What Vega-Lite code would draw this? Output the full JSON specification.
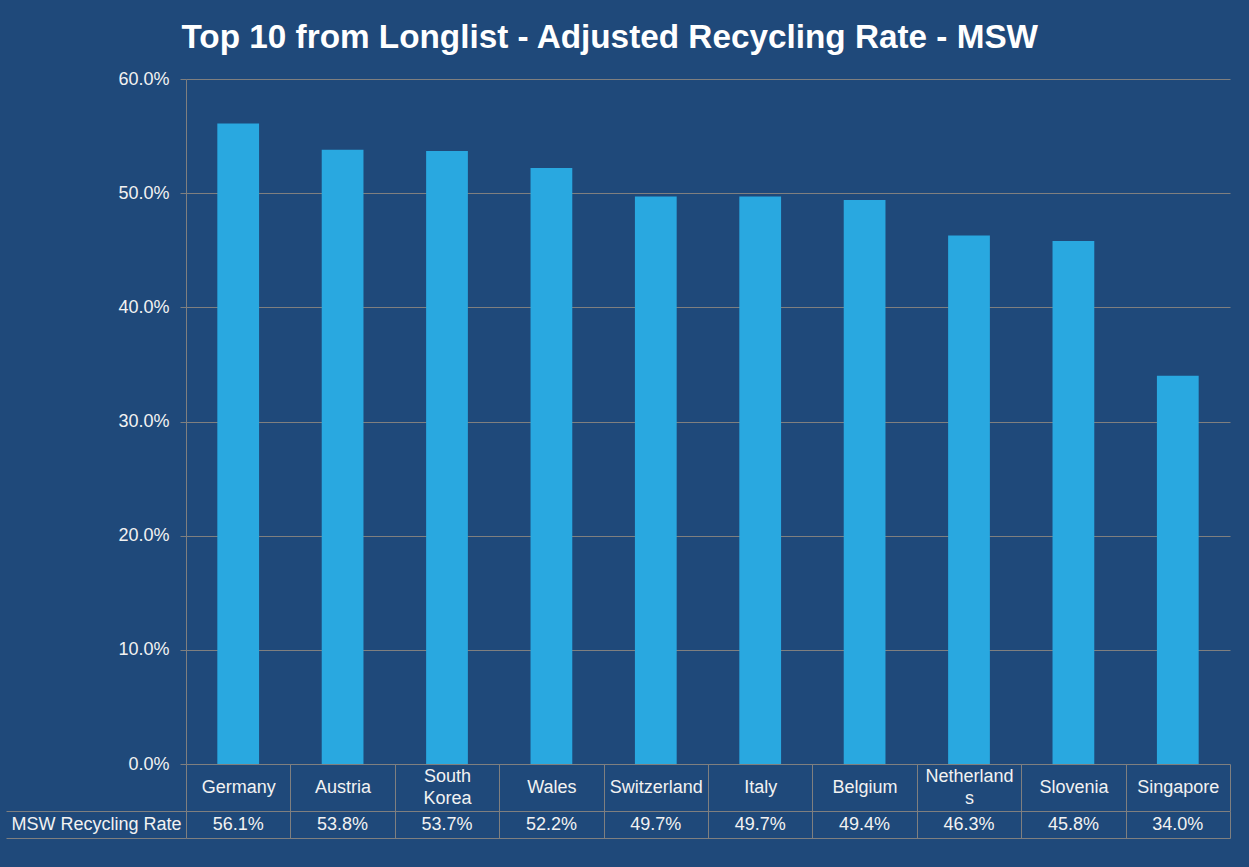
{
  "$schema": "https://vega.github.io/schema/vega-lite/v6.json",
  "background": "#1F497A",
  "padding": {"left": 5, "right": 20, "top": 20, "bottom": 29},
  "title": {
    "text": "Top 10 from Longlist - Adjusted Recycling Rate - MSW",
    "font": "Liberation Sans",
    "fontSize": 33.3,
    "fontWeight": "bold",
    "color": "#FFFFFF",
    "anchor": "start",
    "dx": 176,
    "offset": 15
  },
  "config": {
    "view": {"stroke": null},
    "font": "Liberation Sans"
  },
  "data": {
    "values": [
      {"country": "Germany", "rate": 0.561},
      {"country": "Austria", "rate": 0.538},
      {"country": "South Korea", "rate": 0.537},
      {"country": "Wales", "rate": 0.522},
      {"country": "Switzerland", "rate": 0.497},
      {"country": "Italy", "rate": 0.497},
      {"country": "Belgium", "rate": 0.494},
      {"country": "Netherlands", "rate": 0.463},
      {"country": "Slovenia", "rate": 0.458},
      {"country": "Singapore", "rate": 0.34}
    ]
  },
  "spacing": 0,
  "bounds": "flush",
  "resolve": {"scale": {"x": "independent", "y": "independent"}, "axis": {"x": "independent", "y": "independent"}},
  "vconcat": [
    {
      "width": 1044,
      "height": 685,
      "mark": {"type": "bar", "color": "#29A8E0"},
      "encoding": {
        "x": {
          "field": "country",
          "type": "nominal",
          "sort": null,
          "scale": {"type": "band", "paddingInner": 0.6, "paddingOuter": 0.3},
          "axis": null
        },
        "y": {
          "field": "rate",
          "type": "quantitative",
          "scale": {"domain": [0, 0.6], "nice": false},
          "axis": {
            "values": [0, 0.1, 0.2, 0.3, 0.4, 0.5, 0.6],
            "format": ".1%",
            "title": null,
            "labelFontSize": 18,
            "labelColor": "#F2F2F2",
            "labelFont": "Liberation Sans",
            "gridColor": "#7F7F7F",
            "tickColor": "#7F7F7F",
            "domainColor": "#7F7F7F",
            "tickSize": 6,
            "labelPadding": 11
          }
        }
      }
    },
    {
      "width": 1044,
      "height": 47,
      "mark": {"type": "point", "opacity": 0},
      "encoding": {
        "x": {
          "field": "country",
          "type": "nominal",
          "sort": null,
          "scale": {"type": "band", "paddingInner": 0, "paddingOuter": 0},
          "axis": {
            "orient": "bottom",
            "title": null,
            "grid": true,
            "tickBand": "extent",
            "gridColor": "#7F7F7F",
            "domain": false,
            "ticks": false,
            "labelPadding": {
              "condition": {"test": "datum.label == 'South Korea' || datum.label == 'Netherlands'", "value": -34.5},
              "value": -23.5
            },
            "labelBaseline": "middle",
            "labelAngle": 0,
            "labelFontSize": 18,
            "labelFont": "Liberation Sans",
            "labelColor": "#F2F2F2",
            "labelLineHeight": 22,
            "labelOverlap": false,
            "labelExpr": "datum.label == 'South Korea' ? ['South', 'Korea'] : datum.label == 'Netherlands' ? ['Netherland', 's'] : datum.label"
          }
        }
      }
    },
    {
      "width": 1044,
      "height": 27,
      "mark": {"type": "text", "fontSize": 18, "font": "Liberation Sans", "color": "#F2F2F2"},
      "encoding": {
        "x": {
          "field": "country",
          "type": "nominal",
          "sort": null,
          "scale": {"type": "band", "paddingInner": 0, "paddingOuter": 0},
          "axis": {
            "title": null,
            "grid": true,
            "tickBand": "extent",
            "gridColor": "#7F7F7F",
            "domain": false,
            "ticks": false,
            "labels": false
          }
        },
        "y": {
          "datum": "MSW Recycling Rate",
          "type": "nominal",
          "scale": {"type": "band", "paddingInner": 0, "paddingOuter": 0},
          "axis": {
            "title": null,
            "grid": true,
            "tickBand": "extent",
            "gridColor": "#7F7F7F",
            "ticks": true,
            "tickSize": 180,
            "tickColor": "#7F7F7F",
            "domain": false,
            "labelPadding": -175,
            "labelFontSize": 18,
            "labelFont": "Liberation Sans",
            "labelColor": "#F2F2F2"
          }
        },
        "text": {"field": "rate", "type": "quantitative", "format": ".1%"}
      }
    }
  ]
}
